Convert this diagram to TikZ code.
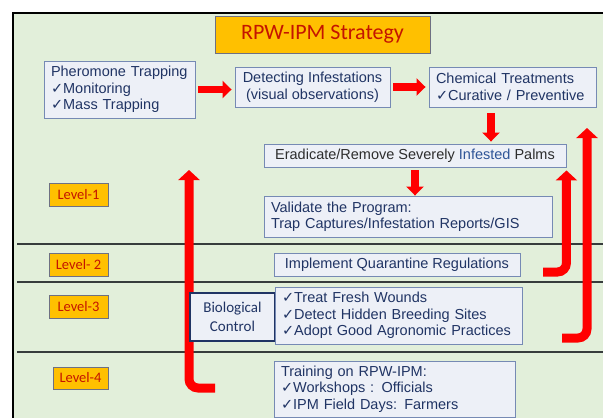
\documentclass[tikz,border=0pt]{standalone}
\usepackage{fontspec}
\setmainfont{Liberation Sans}
\newfontfamily\calib{Carlito}
\newfontfamily\checkfont{DejaVu Sans}
\usetikzlibrary{arrows.meta}
\definecolor{bggreen}{RGB}{226,239,218}
\definecolor{boxfill}{RGB}{237,240,247}
\definecolor{boxline}{RGB}{118,138,180}
\definecolor{amber}{RGB}{255,192,0}
\definecolor{levline}{RGB}{110,112,130}
\definecolor{darkred}{RGB}{196,20,0}
\definecolor{navy}{RGB}{32,52,100}
\definecolor{infblue}{RGB}{47,85,151}
\definecolor{textgray}{RGB}{45,45,45}
\definecolor{sepgray}{RGB}{55,60,60}
\newcommand{\chk}{{\checkfont ✓}}
\begin{document}
\begin{tikzpicture}[x=1pt,y=-1pt,
	box/.style={draw=boxline, fill=boxfill, line width=0.9pt, text=navy, inner xsep=7pt, inner ysep=2pt, font=\fontsize{14.5}{16.5}\selectfont},
	levelbox/.style={draw=levline, fill=amber, line width=0.9pt, text=darkred, minimum width=59pt, minimum height=23pt, inner sep=0pt, font=\calib\fontsize{14.5}{16}\selectfont},
	sepline/.style={line width=1.6pt, draw=sepgray},
	blockarrow/.style={red, line width=7.5pt, -{Triangle[width=17pt,length=9pt]}},
	bigarrow/.style={red, line width=9pt, rounded corners=9pt, -{Triangle[width=21pt,length=10pt]}}]
	\useasboundingbox (0,0) rectangle (603,418);
	\coordinate (trainfoot) at (215,388);
	\coordinate (lefttip) at (189,170);
	\coordinate (quarfoot) at (543,272);
	\coordinate (treatfoot) at (562,338);
	\coordinate (righttip) at (587,128);

	% background panel and level separators
	\fill[bggreen] (13,13) rectangle (620,430);
	\draw[line width=2.6pt] (13,430) -- (13,13) -- (620,13);
	\draw[sepline] (17,244) -- (603,244);
	\draw[sepline] (17,282) -- (603,282);
	\draw[sepline] (17,352) -- (603,352);

	\draw[bigarrow] (trainfoot) -| (lefttip);

	\node[draw=levline, fill=amber, line width=1pt, minimum width=215pt, minimum height=37pt, text=darkred, font=\calib\fontsize{22}{24}\selectfont] (title) at (322.5,34.5) {RPW-IPM Strategy};

	\node[box, minimum height=57pt, text width=137pt, align=left] (pher) at (119.5,89.5) {Pheromone Trapping\\\chk Monitoring\\\chk Mass Trapping};
	\node[box, minimum width=155pt, minimum height=40pt, align=center] (det) at (312.5,87) {Detecting Infestations\\(visual observations)};
	\node[box, minimum height=40pt, text width=153pt, align=left] (chem) at (512.5,87) {Chemical Treatments\\\chk Curative / Preventive};
	\node[box, minimum width=302pt, minimum height=23pt, text=textgray] (erad) at (415,155.5) {Eradicate/Remove Severely \textcolor{infblue}{Infested} Palms};
	\node[box, minimum height=41pt, text width=274pt, align=left] (valid) at (408,216.5) {Validate the Program:\\Trap Captures/Infestation Reports/GIS};
	\node[box, minimum width=246pt, minimum height=23pt] (quar) at (397,264.5) {Implement Quarantine Regulations};
	\node[box, draw=navy, line width=1.3pt, minimum width=85pt, minimum height=48pt, align=center, font=\calib\fontsize{15}{19}\selectfont] (bio) at (232.5,317) {Biological\\Control};
	\node[box, minimum height=57pt, text width=233pt, align=left, inner ysep=1pt] (treat) at (398.5,315.5) {\chk Treat Fresh Wounds\\\chk Detect Hidden Breeding Sites\\\chk Adopt Good Agronomic Practices};
	\node[box, minimum height=56pt, text width=227pt, align=left, inner ysep=1pt] (train) at (394.5,389) {Training on RPW-IPM:\\\chk Workshops : Officials\\\chk IPM Field Days: Farmers};

	\node[levelbox] (lev1) at (78.5,195) {Level-1};
	\node[levelbox] (lev2) at (78.5,264.5) {Level- 2};
	\node[levelbox] (lev3) at (78.5,306.5) {Level-3};
	\node[levelbox, minimum width=55pt, minimum height=22pt] (lev4) at (80.5,378) {Level-4};

	% flow between the steps
	\draw[blockarrow, shorten <=3pt, shorten >=3pt] (pher.east) -- (pher.east -| det.west);
	\draw[blockarrow, shorten <=3pt, shorten >=3pt] (det.east) -- (chem.west);
	\draw[blockarrow, shorten <=6pt, shorten >=2pt] ([xshift=-21.5pt]chem.south) -- ([xshift=-21.5pt]chem.south |- erad.north);
	\draw[blockarrow, shorten <=3pt] (erad.south) -- (erad.south |- valid.north);
	\draw[bigarrow, shorten >=3pt] (quarfoot) -| (erad.south east);
	\draw[bigarrow] (treatfoot) -| (righttip);
\end{tikzpicture}
\end{document}
